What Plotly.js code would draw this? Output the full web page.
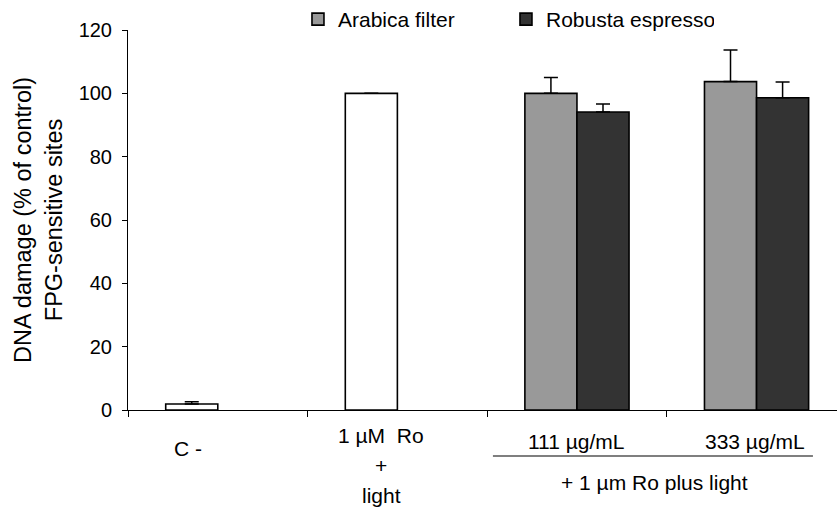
<!DOCTYPE html>
<html>
<head>
<meta charset="utf-8">
<script src="https://cdn.plot.ly/plotly-3.0.1.min.js"></script>
<style>html,body{margin:0;padding:0;background:#fff;}#chart{width:837px;height:512px;}</style>
</head>
<body>
<div id="chart"></div>
<script>
// ---- data ----
var categories = ['C -', '1 µM Ro + light', '111 µg/mL', '333 µg/mL'];
var tickLabels = ['C -', '1 µM  Ro\n+\nlight', '111 µg/mL', '333 µg/mL'];
var groupLabel = '+ 1 µm Ro plus light';

var controlCats = ['C -', '1 µM Ro + light'];
var controlValues = [1.9, 100];
var controlErrors = [0.7, 0];

var coffeeCats = ['111 µg/mL', '333 µg/mL'];
var arabicaValues = [100, 103.7];
var arabicaErrors = [5, 10];
var robustaValues = [94.1, 98.6];
var robustaErrors = [2.5, 5];

var seriesNames = ['Arabica filter', 'Robusta espresso'];
var yTitle = 'DNA damage (% of control)<br>FPG-sensitive sites';

// ---- styles ----
var FONT = 'Liberation Sans, Arial, sans-serif';
var BW = 0.29;
function errs(arr) {
  return {type: 'data', array: arr, arrayminus: arr.map(function(){return 0;}),
          symmetric: false, color: '#000', thickness: 1.5, width: 7};
}
var lineStyle = {color: '#000', width: 1.6};

var traces = [
  {type: 'bar', x: coffeeCats, y: arabicaValues, name: seriesNames[0],
   width: BW, offset: -BW, marker: {color: '#999999', line: lineStyle},
   error_y: errs(arabicaErrors)},
  {type: 'bar', x: coffeeCats, y: robustaValues, name: seriesNames[1],
   width: BW, offset: 0, marker: {color: '#333333', line: lineStyle},
   error_y: errs(robustaErrors)},
  {type: 'bar', x: controlCats, y: controlValues, name: 'control', showlegend: false,
   width: BW, offset: -BW, marker: {color: '#ffffff', line: lineStyle},
   error_y: errs(controlErrors)}
];

// tick label annotations (shifted as in the reference)
var labelXShift = [-30, -16, 0, -2];
var labelYStart = [-38, -25, -31, -31];
var annotations = [];
categories.forEach(function(c, i) {
  var lines = tickLabels[i].split('\n');
  lines.forEach(function(t, j) {
    annotations.push({x: c, xref: 'x', y: 0, yref: 'paper', text: t, showarrow: false,
      xanchor: 'center', yanchor: 'middle', xshift: labelXShift[i],
      yshift: labelYStart[i] - 30 * j, font: {family: FONT, size: 21, color: '#000'}});
  });
});
annotations.push({x: 2.429, xref: 'x', y: 0, yref: 'paper', text: groupLabel, showarrow: false,
  xanchor: 'center', yanchor: 'middle', yshift: -72, font: {family: FONT, size: 21, color: '#000'}});

var layout = {
  width: 837, height: 512,
  margin: {l: 128, r: 0, t: 30, b: 102, autoexpand: false},
  paper_bgcolor: '#fff', plot_bgcolor: '#fff',
  barmode: 'overlay',
  font: {family: FONT, size: 20, color: '#000'},
  showlegend: true,
  legend: {orientation: 'h', xref: 'container', yref: 'container', x: 0.356, y: 0.962,
           xanchor: 'left', yanchor: 'middle', font: {family: FONT, size: 21, color: '#000'},
           entrywidth: 163, entrywidthmode: 'pixels', bgcolor: 'rgba(0,0,0,0)'},
  xaxis: {type: 'category', categoryorder: 'array', categoryarray: categories,
          range: [-0.5, 3.448], showticklabels: false, tickson: 'boundaries',
          ticks: 'outside', ticklen: 6, tickcolor: '#000', showline: true, linecolor: '#000',
          linewidth: 1, showgrid: false, zeroline: false, fixedrange: true},
  yaxis: {range: [0, 120], dtick: 20, ticks: 'outside', ticklen: 5, tickcolor: '#000',
          showline: true, linecolor: '#000', linewidth: 1, showgrid: false, zeroline: false,
          ticklabelstandoff: 6,
          tickfont: {family: FONT, size: 20, color: '#000'},
          title: {text: yTitle, font: {family: FONT, size: 23.5, color: '#000'}, standoff: 9}},
  shapes: [{type: 'line', xref: 'x', yref: 'paper', x0: 1.532, x1: 3.314,
            y0: -46 / 380, y1: -46 / 380, line: {color: '#000', width: 1.2}}],
  annotations: annotations
};

Plotly.newPlot('chart', traces, layout, {staticPlot: true, displayModeBar: false});
</script>
</body>
</html>
